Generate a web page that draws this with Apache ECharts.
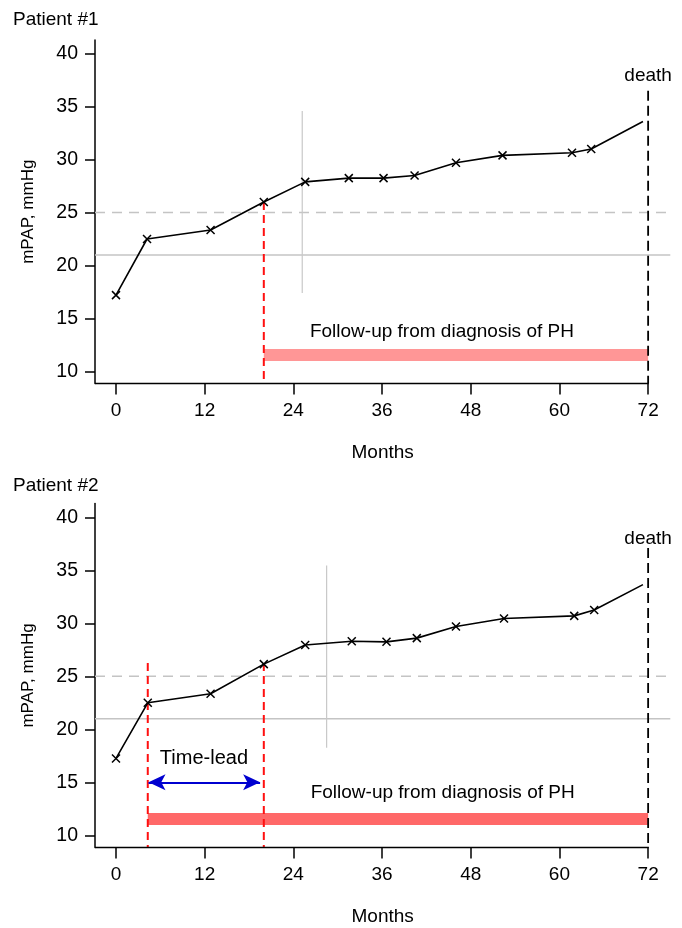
<!DOCTYPE html>
<html>
<head>
<meta charset="utf-8">
<script src="https://cdn.jsdelivr.net/npm/echarts@6/dist/echarts.min.js"></script>
<style>
  html, body { margin: 0; padding: 0; background: #fff; }
  #main { width: 682px; height: 928px; }
</style>
</head>
<body>
<div id="main"></div>
<script>
// measurements (months, mPAP mmHg)
var months1 = [0, 4.2, 12.8, 20, 25.6, 31.5, 36.2, 40.4, 46, 52.3, 61.7, 64.3];
var mpap1 = [17.2, 22.5, 23.35, 26.0, 27.9, 28.25, 28.25, 28.5, 29.7, 30.4, 30.65, 31.0];
var lastPoint1 = [71.3, 33.6];

var months2 = [0, 4.3, 12.8, 20, 25.6, 31.9, 36.6, 40.7, 46, 52.5, 62, 64.7];
var mpap2 = [17.25, 22.5, 23.35, 26.15, 27.95, 28.3, 28.25, 28.6, 29.7, 30.45, 30.7, 31.25];
var lastPoint2 = [71.3, 33.65];

var monthTicks = [0, 12, 24, 36, 48, 60, 72];
var mpapTicks = [10, 15, 20, 25, 30, 35, 40];

// reference values
var normalLimit = 21;      // solid grey
var phThreshold = 25;      // dashed grey
var deathMonth = 72;
var diagnosisMonth = 20;
var earlyMonth2 = 4.3;     // patient 2 earlier detection
var grayMark1 = { month: 25.2, from: 17.4, to: 34.6 };
var grayMark2 = { month: 28.5, from: 18.25, to: 35.45 };
var redTop1 = 26.0, redTop2 = 26.25;
var deathTop1 = 36.5, deathTop2 = 37.1;
var followLevel = 11.55;
var timeLead = { from: 4.4, to: 19.5, level: 15 };

var xMin = -2.84, xMax = 75;
var yMin = 8.85, yMax = 41.3;

var FONT = '"Liberation Sans", Arial, sans-serif';

function seg(idx, pts, style, z) {
  return {
    type: 'line', xAxisIndex: idx, yAxisIndex: idx,
    data: pts, symbol: 'none', silent: true, clip: false,
    lineStyle: style, z: z || 2, animation: false
  };
}

function textMark(idx, x, y, text, size) {
  return {
    type: 'scatter', xAxisIndex: idx, yAxisIndex: idx, silent: true,
    symbolSize: 0, itemStyle: { color: '#fff', opacity: 1 },
    data: [{ value: [x, y], name: text }],
    label: {
      show: true, position: 'inside', formatter: '{b}',
      color: '#000', fontSize: size || 19, fontFamily: FONT,
      textBorderWidth: 0, opacity: 1
    },
    z: 5, animation: false
  };
}

function dataSeries(idx, xs, ys, last) {
  var pts = xs.map(function (m, i) { return [m, ys[i]]; });
  pts.push({ value: last, symbolSize: 0 });
  return {
    type: 'line', xAxisIndex: idx, yAxisIndex: idx, data: pts,
    symbol: 'path://M0,0L10,10M0,10L10,0', symbolSize: 8, showSymbol: true,
    lineStyle: { color: '#000', width: 1.6 },
    itemStyle: { color: '#000', borderColor: '#000', borderWidth: 1.5 },
    z: 4, animation: false
  };
}

function xAxisFor(idx) {
  return {
    type: 'value', gridIndex: idx, min: xMin, max: xMax,
    name: 'Months', nameLocation: 'middle', nameGap: 60, nameMoveOverlap: false,
    nameTextStyle: { fontSize: 19, fontFamily: FONT, color: '#000' },
    axisLine: { show: false, onZero: false },
    axisTick: { show: true, length: 11, customValues: monthTicks,
      lineStyle: { color: '#000', width: 1.5 } },
    axisLabel: { customValues: monthTicks, margin: 18, fontSize: 19,
      fontFamily: FONT, color: '#000' },
    splitLine: { show: false }
  };
}

function yAxisFor(idx) {
  return {
    type: 'value', gridIndex: idx, min: yMin, max: yMax,
    name: 'mPAP, mmHg', nameLocation: 'middle', nameGap: 58,
    nameTextStyle: { fontSize: 17, fontFamily: FONT, color: '#000' },
    axisLine: { show: true, onZero: false, lineStyle: { color: '#000', width: 1.5 } },
    axisTick: { show: true, length: 10, customValues: mpapTicks,
      lineStyle: { color: '#000', width: 1.5 } },
    axisLabel: { customValues: mpapTicks, margin: 17, fontSize: 19.5,
      fontFamily: FONT, color: '#000' },
    splitLine: { show: false }
  };
}

var grayDash = { color: '#c4c4c4', width: 1.5, type: [10, 7] };
var graySolid = { color: '#c4c4c4', width: 1.5 };
var grayThin = { color: '#c8c8c8', width: 1.2 };
var redDash = { color: '#ff1010', width: 2, type: [8, 5] };
var blackDash = { color: '#000', width: 1.8, type: [10, 5] };
var axisStyle = { color: '#000', width: 1.5 };

var series = [];

// ---- patient 1 ----
series.push(seg(0, [[xMin, normalLimit], [xMax, normalLimit]], graySolid, 1));
series.push(seg(0, [[xMin, phThreshold], [xMax, phThreshold]], grayDash, 1));
series.push(seg(0, [[grayMark1.month, grayMark1.from], [grayMark1.month, grayMark1.to]], grayThin, 1));
series.push(seg(0, [[diagnosisMonth, redTop1], [diagnosisMonth, yMin]], redDash, 2));
series.push(seg(0, [[deathMonth, deathTop1], [deathMonth, yMin]], blackDash, 2));
series.push(seg(0, [[diagnosisMonth, followLevel], [deathMonth, followLevel]],
  { color: '#ff9696', width: 12, cap: 'butt' }, 1));
series.push(seg(0, [[xMin, yMin], [deathMonth + 0.1, yMin]], axisStyle, 3));
series.push(dataSeries(0, months1, mpap1, lastPoint1));
series.push(textMark(0, 44.1, 13.7, 'Follow-up from diagnosis of PH'));
series.push(textMark(0, deathMonth, 37.95, 'death'));

// ---- patient 2 ----
series.push(seg(1, [[xMin, normalLimit], [xMax, normalLimit]], graySolid, 1));
series.push(seg(1, [[xMin, phThreshold], [xMax, phThreshold]], grayDash, 1));
series.push(seg(1, [[grayMark2.month, grayMark2.from], [grayMark2.month, grayMark2.to]], grayThin, 1));
series.push(seg(1, [[earlyMonth2, redTop2], [earlyMonth2, yMin]], redDash, 2));
series.push(seg(1, [[diagnosisMonth, redTop2], [diagnosisMonth, yMin]], redDash, 2));
series.push(seg(1, [[deathMonth, deathTop2], [deathMonth, yMin]], blackDash, 2));
series.push(seg(1, [[earlyMonth2, followLevel], [deathMonth, followLevel]],
  { color: '#ff6868', width: 12, cap: 'butt' }, 1));
series.push(seg(1, [[xMin, yMin], [deathMonth + 0.1, yMin]], axisStyle, 3));
series.push(dataSeries(1, months2, mpap2, lastPoint2));
series.push(textMark(1, 44.2, 14.0, 'Follow-up from diagnosis of PH'));
series.push(textMark(1, deathMonth, 38.0, 'death'));
series.push(textMark(1, 11.9, 17.2, 'Time-lead', 20));
series.push({
  type: 'line', xAxisIndex: 1, yAxisIndex: 1, data: [], silent: true,
  markLine: {
    silent: true, symbol: ['arrow', 'arrow'], symbolSize: [12, 17],
    label: { show: false },
    lineStyle: { color: '#0000d0', width: 2, type: 'solid' },
    data: [[{ coord: [timeLead.from, timeLead.level] }, { coord: [timeLead.to, timeLead.level] }]],
    animation: false
  },
  z: 4
});

var chart = echarts.init(document.getElementById('main'));
chart.setOption({
  animation: false,
  backgroundColor: '#fff',
  title: [
    { text: 'Patient #1', left: 8, top: 5,
      textStyle: { fontSize: 19, fontWeight: 'normal', fontFamily: FONT, color: '#000' } },
    { text: 'Patient #2', left: 8, top: 471,
      textStyle: { fontSize: 19, fontWeight: 'normal', fontFamily: FONT, color: '#000' } }
  ],
  grid: [
    { left: 95, top: 40, width: 575.3, height: 343.5 },
    { left: 95, top: 503.5, width: 575.3, height: 344 }
  ],
  xAxis: [xAxisFor(0), xAxisFor(1)],
  yAxis: [yAxisFor(0), yAxisFor(1)],
  series: series
});
</script>
</body>
</html>
